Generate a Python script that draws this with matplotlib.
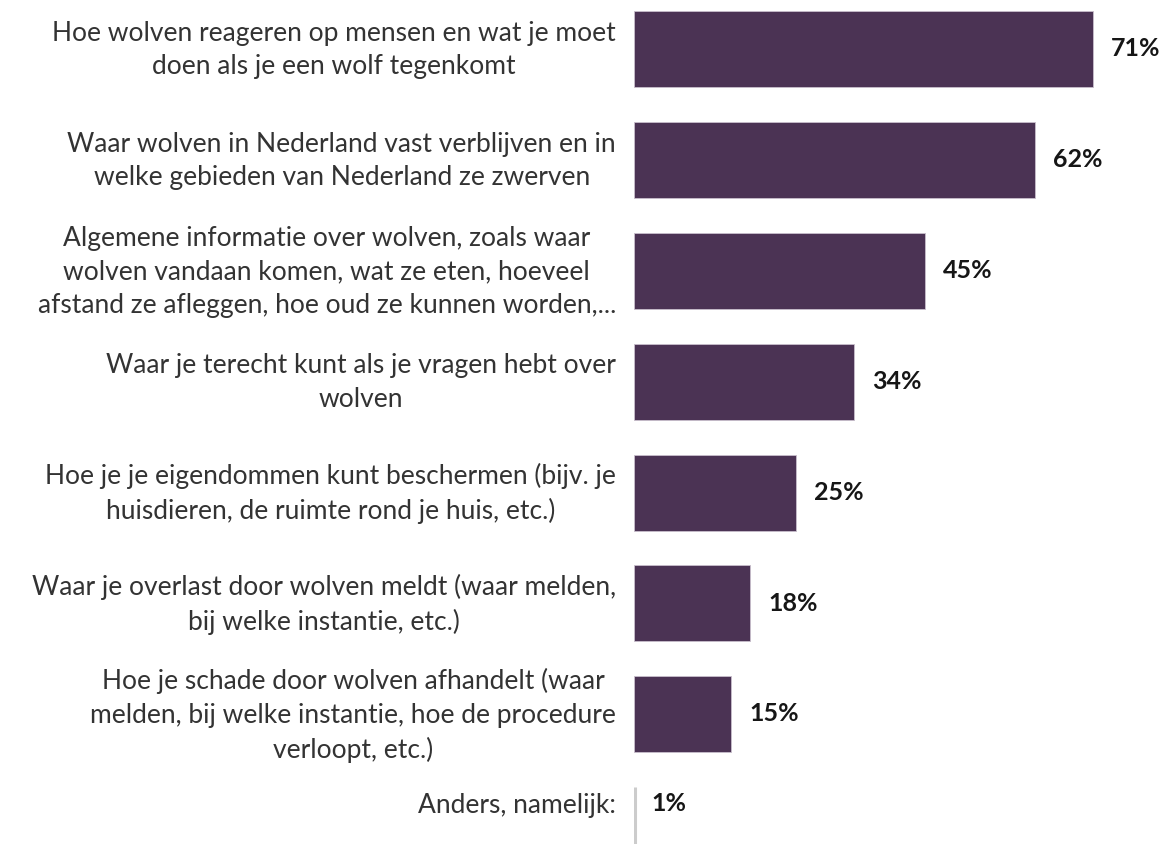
import matplotlib
matplotlib.use("Agg")
import matplotlib.pyplot as plt

categories = [
    "Hoe wolven reageren op mensen en wat je moet\ndoen als je een wolf tegenkomt",
    "Waar wolven in Nederland vast verblijven en in\nwelke gebieden van Nederland ze zwerven",
    "Algemene informatie over wolven, zoals waar\nwolven vandaan komen, wat ze eten, hoeveel\nafstand ze afleggen, hoe oud ze kunnen worden,...",
    "Waar je terecht kunt als je vragen hebt over\nwolven",
    "Hoe je je eigendommen kunt beschermen (bijv. je\nhuisdieren, de ruimte rond je huis, etc.)",
    "Waar je overlast door wolven meldt (waar melden,\nbij welke instantie, etc.)",
    "Hoe je schade door wolven afhandelt (waar\nmelden, bij welke instantie, hoe de procedure\nverloopt, etc.)",
    "Anders, namelijk:",
]
values = [71, 62, 45, 34, 25, 18, 15, 1]
value_labels = ["71%", "62%", "45%", "34%", "25%", "18%", "15%", "1%"]

BAR = "#4b3354"
FONT = "Lato"
PX = 72 / 100  # points per pixel

fig = plt.figure(figsize=(11.6, 8.45), dpi=100)
ax = fig.add_axes([634 / 1160, 0, 1 - 634 / 1160, 1])
ax.set_xlim(0, (1160 - 634) / 6.465)
ax.set_ylim(7.169, -0.451)
ax.axis("off")

for i, (cat, v, lab) in enumerate(zip(categories, values, value_labels)):
    small = v < 5
    if small:
        ax.vlines(0.2, i - 0.343, i + 0.343, color="#cccccc", linewidth=2.2)
        ty = i - 0.19
        vx = 0.0
        voff = 17
    else:
        ax.barh(i, v, height=0.685, color=BAR, edgecolor="#c9bfcc", linewidth=0.6)
        ty = i
        vx = v
        voff = 18
    ax.annotate(cat, xy=(0, ty), xytext=(-18 * PX, 0), textcoords="offset points",
                ha="right", va="center", multialignment="center", linespacing=1.42,
                fontsize=19, color="#333333", family=FONT, annotation_clip=False)
    ax.annotate(lab, xy=(vx, ty), xytext=(voff * PX, 1), textcoords="offset points",
                ha="left", va="center", fontsize=18, fontweight="bold",
                color="#161616", family=FONT, annotation_clip=False)

fig.savefig("out.png", dpi=100)
